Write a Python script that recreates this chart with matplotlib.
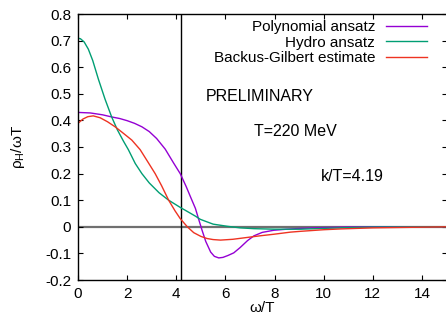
import numpy as np
import matplotlib
matplotlib.use('Agg')
import matplotlib.pyplot as plt
from matplotlib.ticker import FormatStrFormatter

plt.rcParams['font.family'] = ['Liberation Sans', 'DejaVu Sans']
plt.rcParams['mathtext.default'] = 'regular'
plt.rcParams['font.size'] = 11

# data
poly_x = [0, 0.5, 1.0, 1.37, 1.7, 2.0, 2.3, 2.6, 2.9, 3.2, 3.55, 3.89, 4.16, 4.4, 4.6, 4.78,
          4.9, 5.05, 5.2, 5.4, 5.55, 5.73, 5.9, 6.1, 6.34, 6.6, 6.9, 7.16, 7.5, 7.97, 8.5,
          9.06, 10, 11, 12, 15]
poly_y = [0.43, 0.428, 0.421, 0.413, 0.407, 0.399, 0.389, 0.376, 0.358, 0.332, 0.292, 0.24,
          0.2, 0.152, 0.108, 0.069, 0.032, -0.013, -0.055, -0.095, -0.111, -0.117, -0.115,
          -0.108, -0.098, -0.078, -0.052, -0.034, -0.021, -0.013, -0.009, -0.006, -0.003,
          -0.001, 0, 0]

hydro_x = [0, 0.1, 0.25, 0.42, 0.6, 0.83, 1.1, 1.37, 1.6, 1.85, 2.05, 2.33, 2.6, 2.9, 3.3,
           3.69, 4.16, 4.5, 4.78, 4.98, 5.5, 6.07, 6.6, 7.16, 8, 9.06, 10, 11, 12, 15]
hydro_y = [0.709, 0.707, 0.695, 0.668, 0.625, 0.555, 0.48, 0.413, 0.365, 0.322, 0.29, 0.238,
           0.2, 0.165, 0.128, 0.1, 0.073, 0.055, 0.04, 0.028, 0.01, 0.002, -0.004, -0.007,
           -0.009, -0.009, -0.006, -0.003, -0.001, 0]

bg_x = [0, 0.2, 0.4, 0.62, 0.9, 1.2, 1.51, 1.8, 2.19, 2.53, 2.87, 3.14, 3.4, 3.69, 3.95, 4.16,
        4.45, 4.71, 5.0, 5.25, 5.5, 5.8, 6.3, 6.89, 7.4, 7.97, 8.65, 9.06, 10, 10.7, 12, 13.5, 15]
bg_y = [0.389, 0.405, 0.414, 0.417, 0.41, 0.395, 0.376, 0.355, 0.326, 0.29, 0.24, 0.2, 0.155,
        0.1, 0.06, 0.031, 0.0, -0.022, -0.036, -0.044, -0.048, -0.05, -0.047, -0.04, -0.034,
        -0.028, -0.02, -0.017, -0.011, -0.008, -0.004, -0.002, 0]

k_over_T = 4.19

fig = plt.figure(figsize=(4.46, 3.26), dpi=100)
ax = fig.add_axes([78/446, 46/326, 368.5/446, 266/326])

ax.axhline(0, color='#707070', lw=1.6, zorder=1)
ax.axvline(k_over_T, color='black', lw=1.0, zorder=1)

l1, = ax.plot(poly_x, poly_y, color='#9400d3', lw=1.0, label='Polynomial ansatz')
l2, = ax.plot(hydro_x, hydro_y, color='#009e73', lw=1.0, label='Hydro ansatz')
l3, = ax.plot(bg_x, bg_y, color='#ee3322', lw=1.0, label='Backus-Gilbert estimate')

ax.set_xlim(0, 15)
ax.set_ylim(-0.2, 0.8)
ax.set_xticks(np.arange(0, 15, 2))
ax.set_yticks(np.arange(-0.2, 0.81, 0.1))
ax.yaxis.set_major_formatter(FormatStrFormatter('%g'))
ax.tick_params(direction='in', top=True, right=True, length=3.5, width=0.8, labelsize=11, pad=5)
for s in ax.spines.values():
    s.set_linewidth(1.0)

ax.text(5.18, 0.489, 'PRELIMINARY', va='center', ha='left', fontsize=11.5)
ax.text(7.16, 0.357, 'T=220 MeV', va='center', ha='left', fontsize=11.5)
ax.text(9.88, 0.188, 'k/T=4.19', va='center', ha='left', fontsize=11.5)

ax.set_xlabel('ω/T')
ax.set_ylabel('ρ$_H$/ωT')
ax.xaxis.set_label_coords(0.5, -21/266)
ax.yaxis.set_label_coords(-(78-27)/368.5, 0.5)

ax.legend(handles=[l1, l2, l3], loc='upper right', bbox_to_anchor=(427/446, 1-20/326),
          bbox_transform=fig.transFigure, frameon=False, markerfirst=False,
          borderpad=0, borderaxespad=0, handlelength=2.7, handletextpad=0.7,
          labelspacing=0.1)

fig.savefig('out.png', dpi=100)
